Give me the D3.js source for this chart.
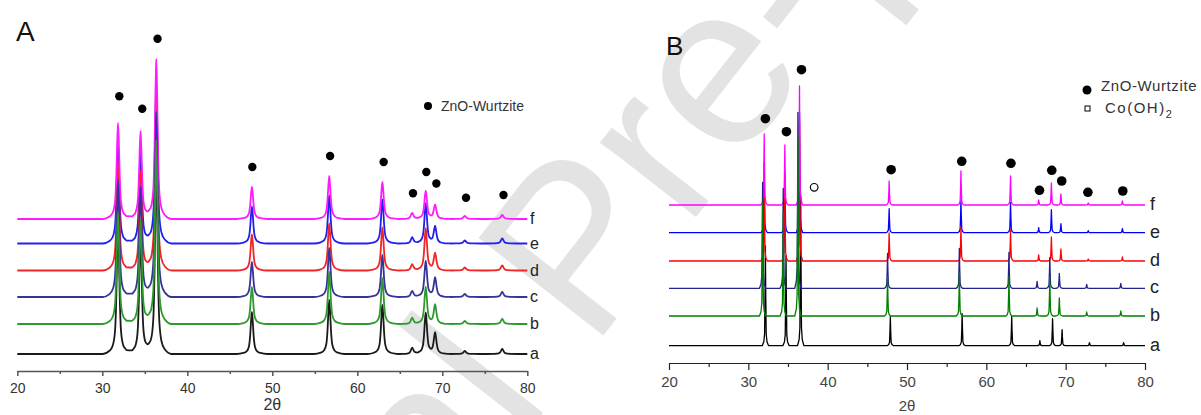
<!DOCTYPE html>
<html><head><meta charset="utf-8">
<script src="https://cdn.jsdelivr.net/npm/d3@7"></script>
<style>body{margin:0;background:#fff}svg{display:block;font-family:Arial,"Liberation Sans",sans-serif}</style>
</head><body><svg id="c" width="1201" height="415"></svg>
<script>
// ---------- data ----------
const sampleLabels = ["a","b","c","d","e","f"];
const xTicks = [20,30,40,50,60,70,80];
const xMinorTicks = [25,35,45,55,65,75];

// Panel A (intensity in a.u., offset stacked)
const peaksA = [31.85,34.5,36.35,47.6,56.7,62.95,66.45,68.05,69.15,72.65,77.05];
const offsetsA = [17,47,74,100.5,127.5,152];
const heightsA_a = [130,120,190,42,54,49,6,41,21,3,5];
const heightsA_b = [111,104,184,37,52,46,6,37,19,3,5];
const heightsA_c = [117,110,185,35,49,42,6,36,19,3,5];
const heightsA_d = [110,100,170,36,47,43,6,42,17,3,5];
const heightsA_e = [100,95,160,37,48,44,6,40,17,3,5];
const heightsA_f = [96,88,160,32,43,37,6,28,14,3,4];
const profileA_dx  = [-1.8,-1.0,-0.6,-0.35,-0.2,-0.1,0,0.1,0.2,0.35,0.6,1.0,1.8];
const profileA_rel = [0,0.025,0.07,0.18,0.45,0.78,1,0.78,0.45,0.18,0.07,0.025,0];
const markerA_x = [32.0,34.7,36.5,47.65,56.8,63.1,66.55,68.12,69.3,72.79,77.2];
const markerA_y = [274.7,262.3,332.3,204,215,209,177.7,199,187.5,173.3,176];

// Panel B
const peaksB = [32.0,34.6,36.45,47.75,56.8,63.05,66.6,68.2,69.4,72.85,77.15];
const offsetsB = [17.3,47,74.7,102,130.3,158];
const shiftsB = [0.15,-0.2,-0.2,0,0,0];
const heightsB_a = [100,90,150,29,32,29,5,27,16,3,3];
const heightsB_b = [113,105,179,39,43,39,8,39,18,4,5];
const heightsB_c = [106,100,176,35,40,36,7,31,15,4,5];
const heightsB_d = [85,75,140,28,34,31,6,24,12,2,4];
const heightsB_e = [70,60,120,24,33,30,5,23,9,2,4];
const heightsB_f = [71,60,119,24,34,29,5,22,11,2,4];
const profileB_dx  = [-0.4,-0.2,-0.1,-0.04,0,0.04,0.1,0.2,0.4];
const profileB_rel = [0,0.04,0.12,0.55,1,0.55,0.12,0.04,0];
const markerB_x = [32.15,34.8,36.7,48.0,56.9,63.1,66.7,68.25,69.5,72.8,77.2];
const markerB_y = [244.3,231.3,293.3,193.3,201.7,199.7,172.7,192.7,182,170.7,172];
const coMarkerB_x = [38.3];
const coMarkerB_y = [175.7];

// ---------- style ----------
const colorsA = ["#1a1a1a","#2e9a2e","#34349a","#f02525","#2020f0","#ff1aff"];
const colorsB = ["#000000","#008000","#22228a","#ff0000","#0000ff","#ff00ff"];
const drawOrder = [0,4,3,5,2,1];

const svg = d3.select("#c");

// watermark
svg.append("text")
  .attr("transform","translate(635,295) rotate(-52)")
  .attr("text-anchor","middle")
  .attr("font-size",230)
  .attr("fill","#e3e3e3")
  .text("Journal Pre-proof");

function buildSeries(peaks, heights, offset, shift, pdx, prel){
  const xs = new Set([20,80]);
  peaks.forEach(p=>pdx.forEach(d=>{const x=p+shift+d; if(x>20&&x<80) xs.add(+x.toFixed(4));}));
  const arr = Array.from(xs).sort((a,b)=>a-b);
  const interp = d3.scaleLinear().domain(pdx).range(prel).clamp(true);
  return arr.map(x=>{
    let y = offset;
    peaks.forEach((p,i)=>{ y += heights[i]*interp(x-(p+shift)); });
    return [x,y];
  });
}

function panel(opt){
  const x = d3.scaleLinear().domain([20,80]).range(opt.xr);
  const y = d3.scaleLinear().domain([0,320]).range([opt.y0, opt.y0-320]);
  const g = svg.append("g");
  const line = d3.line().x(d=>x(d[0])).y(d=>y(d[1])).curve(opt.curve);
  opt.drawOrder.forEach(i=>{
    const pts = buildSeries(opt.peaks, opt.heights[i], opt.offsets[i], opt.shifts[i], opt.pdx, opt.prel);
    g.append("path").attr("d",line(pts)).attr("fill","none")
      .attr("stroke",opt.colors[i]).attr("stroke-width",opt.lw).attr("stroke-linejoin","round");
  });
  // labels
  sampleLabels.forEach((l,i)=>{
    g.append("text").attr("x",opt.labelX).attr("y",y(opt.offsets[i])+opt.labelDy)
      .attr("font-size",opt.labelSize).attr("fill","#222").text(l);
  });
  // axis
  const ax = g.append("g").attr("transform",`translate(0,${opt.y0})`)
    .call(d3.axisBottom(x).tickValues(xTicks).tickSize(opt.tick).tickSizeOuter(0).tickPadding(opt.pad).tickFormat(d3.format("d")));
  ax.select(".domain").attr("stroke",opt.axisColor).attr("stroke-width",opt.axisW);
  ax.selectAll(".tick line").attr("stroke",opt.axisColor).attr("stroke-width",opt.axisW);
  ax.selectAll("text").attr("font-size",opt.tickFont).attr("fill",opt.tickColor).attr("font-family","Arial, Liberation Sans, sans-serif");
  const axm = g.append("g").attr("transform",`translate(0,${opt.y0})`)
    .call(d3.axisBottom(x).tickValues(xMinorTicks).tickSize(opt.minor).tickSizeOuter(0).tickFormat(""));
  axm.select(".domain").remove();
  axm.selectAll(".tick line").attr("stroke",opt.axisColor).attr("stroke-width",opt.axisW);
  g.append("text").attr("x",x(50)).attr("y",opt.titleY).attr("text-anchor","middle")
    .attr("font-size",opt.titleSize).attr("fill",opt.tickColor).text("2θ");
  // markers
  opt.mx.forEach((mx,i)=>{
    g.append("circle").attr("cx",x(mx)).attr("cy",y(opt.my[i])).attr("r",opt.mr).attr("fill","#000");
  });
  return {x,y,g};
}

const A = panel({xr:[17.3,527.3], y0:371, curve:d3.curveMonotoneX, peaks:peaksA,
  heights:[heightsA_a,heightsA_b,heightsA_c,heightsA_d,heightsA_e,heightsA_f],
  offsets:offsetsA, shifts:[0,0,0,0,0,0], pdx:profileA_dx, prel:profileA_rel,
  colors:colorsA, lw:1.8, drawOrder, labelX:530, labelDy:5, labelSize:16,
  tick:5, minor:3, pad:7, axisColor:"#555", axisW:1.5, tickFont:14, tickColor:"#333",
  titleY:410, titleSize:16, mx:markerA_x, my:markerA_y, mr:4.2});

const B = panel({xr:[669,1145], y0:363, curve:d3.curveLinear, peaks:peaksB,
  heights:[heightsB_a,heightsB_b,heightsB_c,heightsB_d,heightsB_e,heightsB_f],
  offsets:offsetsB, shifts:shiftsB, pdx:profileB_dx, prel:profileB_rel,
  colors:colorsB, lw:1.3, drawOrder, labelX:1150, labelDy:5, labelSize:18,
  tick:7, minor:4, pad:6, axisColor:"#222", axisW:1.2, tickFont:15, tickColor:"#444",
  titleY:411, titleSize:15, mx:markerB_x, my:markerB_y, mr:4.8});

// Co(OH)2 hollow marker
coMarkerB_x.forEach((mx,i)=>{
  B.g.append("circle").attr("cx",B.x(mx)).attr("cy",B.y(coMarkerB_y[i])).attr("r",3.8)
    .attr("fill","#fff").attr("stroke","#000").attr("stroke-width",1.2);
});

// panel letters
svg.append("text").attr("x",16).attr("y",41).attr("font-size",28).attr("fill","#111").text("A");
svg.append("text").attr("x",666).attr("y",55).attr("font-size",26).attr("fill","#111").text("B");

// legends
svg.append("circle").attr("cx",428).attr("cy",106).attr("r",4).attr("fill","#000");
svg.append("text").attr("x",441).attr("y",111).attr("font-size",14).attr("fill","#333").text("ZnO-Wurtzite");

svg.append("circle").attr("cx",1087).attr("cy",90).attr("r",4.5).attr("fill","#000");
svg.append("text").attr("x",1101).attr("y",91).attr("font-size",15).attr("letter-spacing",0.6).attr("fill","#333").text("ZnO-Wurtzite");
svg.append("rect").attr("x",1085).attr("y",106).attr("width",5).attr("height",5).attr("fill","#fff").attr("stroke","#000").attr("stroke-width",1);
const co = svg.append("text").attr("x",1105).attr("y",113).attr("font-size",15).attr("letter-spacing",1.5).attr("fill","#333");
co.append("tspan").text("Co(OH)");
co.append("tspan").attr("font-size",11).attr("dy",5).text("2");
</script></body></html>
